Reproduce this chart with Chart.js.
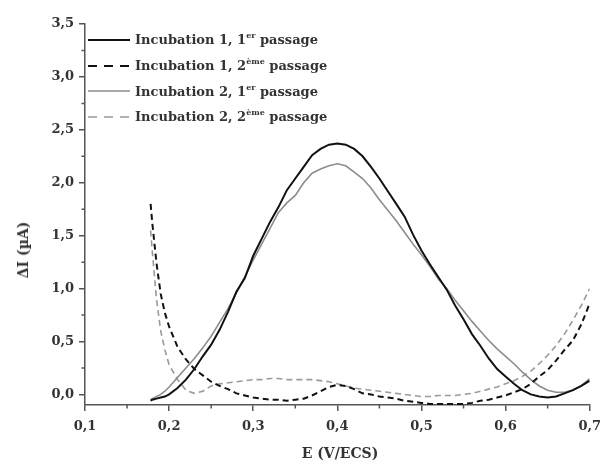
<!DOCTYPE html>
<html>
<head>
<meta charset="utf-8">
<script src="https://cdn.jsdelivr.net/npm/chart.js@4"></script>
<style>
  body { margin: 0; background: #fff; }
  #wrap { position: relative; width: 609px; height: 466px; }
  .lbl { position: absolute; font-family: "DejaVu Serif", serif; font-weight: bold; color: #333; white-space: nowrap; }
  #ytitle { font-size: 14px; left: 23px; top: 250px; transform: translate(-50%, -50%) rotate(-90deg); }
  #xtitle { font-size: 14px; left: 340px; top: 453px; transform: translate(-50%, -50%); }
  #legend { position: absolute; left: 88px; top: 27px; font-family: "DejaVu Serif", serif; font-weight: bold; font-size: 13px; color: #333; }
  #legend .row { height: 25.7px; display: flex; align-items: center; white-space: nowrap; }
  #legend svg { margin-right: 5px; }
  #legend sup { font-size: 8px; vertical-align: 6px; line-height: 0; }
</style>
</head>
<body>
<div id="wrap">
  <canvas id="grafica"></canvas>
  <div id="ytitle" class="lbl">ΔI (µA)</div>
  <div id="xtitle" class="lbl">E (V/ECS)</div>
  <div id="legend"></div>
</div>
<script>
// Potentiel (V/ECS), même grille pour les quatre courbes
var potentiel = [0.178, 0.18, 0.185, 0.19, 0.195,
  0.20, 0.21, 0.22, 0.23, 0.24, 0.25, 0.26, 0.27, 0.28, 0.29,
  0.30, 0.31, 0.32, 0.33, 0.34, 0.35, 0.36, 0.37, 0.38, 0.39,
  0.40, 0.41, 0.42, 0.43, 0.44, 0.45, 0.46, 0.47, 0.48, 0.49,
  0.50, 0.51, 0.52, 0.53, 0.54, 0.55, 0.56, 0.57, 0.58, 0.59,
  0.60, 0.61, 0.62, 0.63, 0.64, 0.65, 0.66, 0.67, 0.68, 0.69, 0.70];

// Incubation 1, 1er passage
var inc1Pass1 = [-0.06, -0.05, -0.04, -0.03, -0.02,
  0.00, 0.06, 0.14, 0.24, 0.36, 0.47, 0.61, 0.78, 0.97, 1.10,
  1.31, 1.47, 1.63, 1.77, 1.93, 2.04, 2.15, 2.26, 2.32, 2.36,
  2.37, 2.36, 2.32, 2.25, 2.15, 2.04, 1.92, 1.80, 1.68, 1.51,
  1.36, 1.23, 1.11, 0.99, 0.84, 0.71, 0.57, 0.46, 0.34, 0.24,
  0.17, 0.10, 0.04, 0.00, -0.02, -0.03, -0.02, 0.01, 0.04, 0.08, 0.13];

// Incubation 1, 2ème passage
var inc1Pass2 = [1.80, 1.62, 1.24, 0.95, 0.77,
  0.64, 0.45, 0.33, 0.24, 0.18, 0.12, 0.08, 0.05, 0.01, -0.01,
  -0.03, -0.04, -0.05, -0.05, -0.06, -0.05, -0.04, -0.01, 0.03, 0.07,
  0.09, 0.08, 0.05, 0.01, 0.00, -0.02, -0.03, -0.04, -0.06, -0.07,
  -0.08, -0.09, -0.09, -0.09, -0.09, -0.09, -0.08, -0.06, -0.05, -0.03,
  -0.01, 0.02, 0.05, 0.10, 0.17, 0.23, 0.32, 0.42, 0.51, 0.66, 0.86];

// Incubation 2, 1er passage
var inc2Pass1 = [-0.05, -0.04, -0.02, 0.00, 0.03,
  0.07, 0.16, 0.25, 0.34, 0.44, 0.55, 0.68, 0.81, 0.96, 1.11,
  1.27, 1.42, 1.57, 1.72, 1.81, 1.88, 2.00, 2.09, 2.13, 2.16,
  2.18, 2.16, 2.10, 2.04, 1.95, 1.84, 1.74, 1.64, 1.53, 1.42,
  1.32, 1.21, 1.09, 1.00, 0.89, 0.79, 0.69, 0.60, 0.51, 0.43,
  0.36, 0.29, 0.21, 0.14, 0.08, 0.04, 0.02, 0.02, 0.04, 0.08, 0.15];

// Incubation 2, 2ème passage
var inc2Pass2 = [1.55, 1.35, 0.90, 0.60, 0.42,
  0.28, 0.14, 0.04, 0.01, 0.03, 0.08, 0.10, 0.11, 0.12, 0.13,
  0.14, 0.14, 0.15, 0.15, 0.14, 0.14, 0.14, 0.14, 0.13, 0.12,
  0.10, 0.08, 0.06, 0.05, 0.04, 0.03, 0.02, 0.01, 0.00, -0.01,
  -0.02, -0.02, -0.01, -0.01, -0.01, 0.00, 0.01, 0.03, 0.05, 0.07,
  0.10, 0.13, 0.17, 0.22, 0.29, 0.37, 0.46, 0.57, 0.70, 0.84, 1.00];

// Graduations
var ticksX = [0.1, 0.2, 0.3, 0.4, 0.5, 0.6, 0.7];
var ticksXMineurs = [0.15, 0.25, 0.35, 0.45, 0.55, 0.65];
var ticksY = [0.0, 0.5, 1.0, 1.5, 2.0, 2.5, 3.0, 3.5];
var ticksYMineurs = [0.25, 0.75, 1.25, 1.75, 2.25, 2.75, 3.25];

var noms = ['Incubation 1, 1|er| passage', 'Incubation 1, 2|ème| passage',
            'Incubation 2, 1|er| passage', 'Incubation 2, 2|ème| passage'];
var couleurs = ['#111111', '#111111', '#8c8c8c', '#9a9a9a'];
var epaisseurs = [2, 2, 1.6, 1.6];
var tirets = [[], [6, 4], [], [6, 4]];
var series = [inc1Pass1, inc1Pass2, inc2Pass1, inc2Pass2];

function enPoints(valeurs) {
    return potentiel.map(function (e, i) { return { x: e, y: valeurs[i] }; });
}

function virgule(v, n) {
    return v.toFixed(n).replace('.', ',');
}

var datasets = series.map(function (s, i) {
    return {
        label: noms[i].replace(/\|/g, ''),
        data: enPoints(s),
        borderColor: couleurs[i],
        borderWidth: epaisseurs[i],
        borderDash: tirets[i],
        pointRadius: 0,
        fill: false,
        tension: 0
    };
});

// Légende HTML (exposants)
var legende = document.getElementById('legend');
noms.forEach(function (nom, i) {
    var p = nom.split('|');
    var row = document.createElement('div');
    row.className = 'row';
    var dash = tirets[i].length ? 'stroke-dasharray="9 7"' : '';
    row.innerHTML = '<svg width="42" height="4"><line x1="0" y1="2" x2="42" y2="2" stroke="' + couleurs[i] +
        '" stroke-width="' + epaisseurs[i] + '" ' + dash + '/></svg>' +
        '<span>' + p[0] + '<sup>' + p[1] + '</sup>' + p[2] + '</span>';
    legende.appendChild(row);
});

// Petites graduations (plus courtes que les grandes)
var graduationsMineures = {
    id: 'graduationsMineures',
    afterDraw: function (chart) {
        var c = chart.ctx, sx = chart.scales.x, sy = chart.scales.y;
        c.save();
        c.strokeStyle = '#555';
        c.lineWidth = 1.5;
        c.beginPath();
        ticksXMineurs.forEach(function (v) {
            var px = sx.getPixelForValue(v);
            c.moveTo(px, sx.top);
            c.lineTo(px, sx.top + 3.5);
        });
        ticksYMineurs.forEach(function (v) {
            var py = sy.getPixelForValue(v);
            c.moveTo(sy.right, py);
            c.lineTo(sy.right - 3.5, py);
        });
        c.stroke();
        c.restore();
    }
};

var police = { family: 'DejaVu Serif', weight: 'bold', size: 13 };

var ctx = document.getElementById('grafica').getContext('2d');
var myChart = new Chart(ctx, {
    type: 'line',
    data: { datasets: datasets },
    plugins: [graduationsMineures],
    options: {
        responsive: true,
        maintainAspectRatio: false,
        animation: false,
        layout: { padding: { top: 24, right: 13, left: 0, bottom: 0 } },
        plugins: { legend: { display: false }, tooltip: { enabled: false } },
        scales: {
            x: {
                type: 'linear',
                position: 'bottom',
                min: 0.1,
                max: 0.7,
                border: { color: '#555', width: 1.5 },
                grid: { drawOnChartArea: false, tickLength: 6, color: '#555', lineWidth: 1.5 },
                ticks: {
                    color: '#333',
                    font: police,
                    padding: 8,
                    maxRotation: 0,
                    autoSkip: false,
                    callback: function (v) { return virgule(v, 1); }
                },
                afterBuildTicks: function (scale) {
                    scale.ticks = ticksX.map(function (v) { return { value: v }; });
                },
                afterFit: function (scale) { scale.height = 61; }
            },
            y: {
                type: 'linear',
                min: -0.1,
                max: 3.5,
                border: { color: '#555', width: 1.5 },
                grid: { drawOnChartArea: false, tickLength: 6, color: '#555', lineWidth: 1.5 },
                ticks: {
                    color: '#333',
                    font: police,
                    padding: 5,
                    autoSkip: false,
                    callback: function (v) { return virgule(v, 1); }
                },
                afterBuildTicks: function (scale) {
                    scale.ticks = ticksY.map(function (v) { return { value: v }; });
                },
                afterFit: function (scale) { scale.width = 85; }
            }
        }
    }
});
</script>
</body>
</html>
